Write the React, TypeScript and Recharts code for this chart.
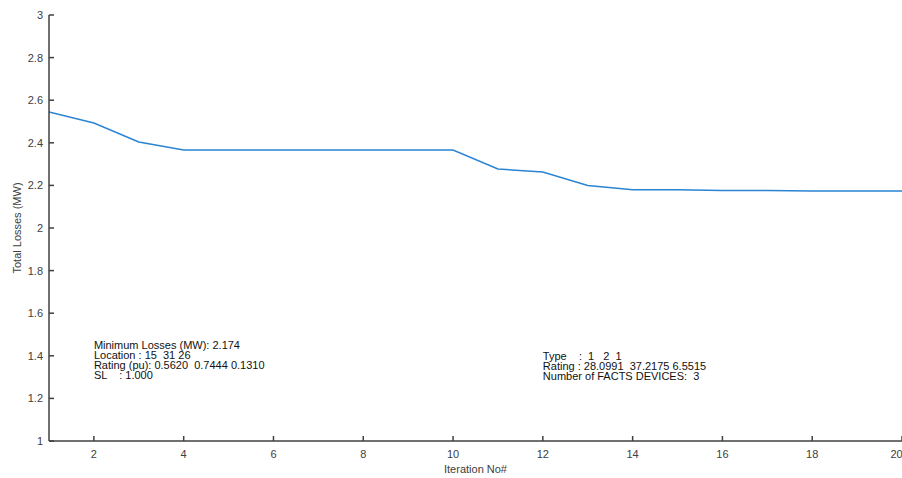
import { LineChart, Line, XAxis, YAxis, ReferenceDot } from 'recharts'

// iteration number vs. total losses
const iterations = [1, 2, 3, 4, 5, 6, 7, 8, 9, 10, 11, 12, 13, 14, 15, 16, 17, 18, 19, 20]
const losses = [
  2.545, 2.493, 2.404, 2.366, 2.366, 2.366, 2.366, 2.366, 2.366, 2.366,
  2.277, 2.263, 2.2, 2.18, 2.18, 2.176, 2.176, 2.174, 2.174, 2.174,
]
const xTicks = [2, 4, 6, 8, 10, 12, 14, 16, 18, 20]
const yTicks = [1, 1.2, 1.4, 1.6, 1.8, 2, 2.2, 2.4, 2.6, 2.8, 3]

const leftNote = [
  'Minimum Losses (MW): 2.174',
  'Location : 15  31 26',
  'Rating (pu): 0.5620  0.7444 0.1310',
  'SL    : 1.000',
]
const rightNote = [
  'Type    :  1   2  1',
  'Rating : 28.0991  37.2175 6.5515',
  'Number of FACTS DEVICES:  3',
]

const data = iterations.map((it, i) => ({ it, loss: losses[i] }))

const axisColor = '#404040'
const font = '"Liberation Sans", Arial, sans-serif'

const noteShape = (lines: string[]) => (props: any) => (
  <text
    x={props.cx}
    y={props.cy}
    fontSize={11}
    fontFamily={font}
    fill="#111"
    style={{ whiteSpace: 'pre' }}
  >
    {lines.map((l, i) => (
      <tspan key={i} x={props.cx} dy={i === 0 ? 0 : 10}>
        {l}
      </tspan>
    ))}
  </text>
)

export default function App() {
  return (
    <div style={{ position: 'absolute', left: 0, top: 0, background: '#fff' }}>
      <LineChart
        width={902}
        height={478}
        data={data}
        margin={{ top: 15, right: 0, bottom: 0, left: 0 }}
        style={{ fontFamily: font }}
      >
        <XAxis
          dataKey="it"
          type="number"
          domain={[1, 20]}
          ticks={xTicks}
          allowDataOverflow
          height={37}
          stroke={axisColor}
          strokeWidth={1.5}
          tickSize={-5}
          tickMargin={14}
          tick={{ fill: axisColor, fontSize: 11 }}
          label={{ value: 'Iteration No#', position: 'insideBottom', offset: 5, fill: axisColor, fontSize: 11 }}
        />
        <YAxis
          type="number"
          domain={[1, 3]}
          ticks={yTicks}
          width={49}
          stroke={axisColor}
          strokeWidth={1.5}
          tickSize={-5}
          tickMargin={11}
          tick={{ fill: axisColor, fontSize: 11 }}
          label={{
            value: 'Total Losses (MW)',
            angle: -90,
            position: 'insideLeft',
            offset: 17,
            fill: axisColor,
            fontSize: 11,
            style: { textAnchor: 'middle' },
          }}
        />
        <Line
          type="linear"
          dataKey="loss"
          stroke="#2a84d2"
          strokeWidth={1.5}
          dot={false}
          isAnimationActive={false}
        />
        <ReferenceDot x={2} y={1.43} r={0} shape={noteShape(leftNote)} />
        <ReferenceDot x={12} y={1.38} r={0} shape={noteShape(rightNote)} />
      </LineChart>
    </div>
  )
}
